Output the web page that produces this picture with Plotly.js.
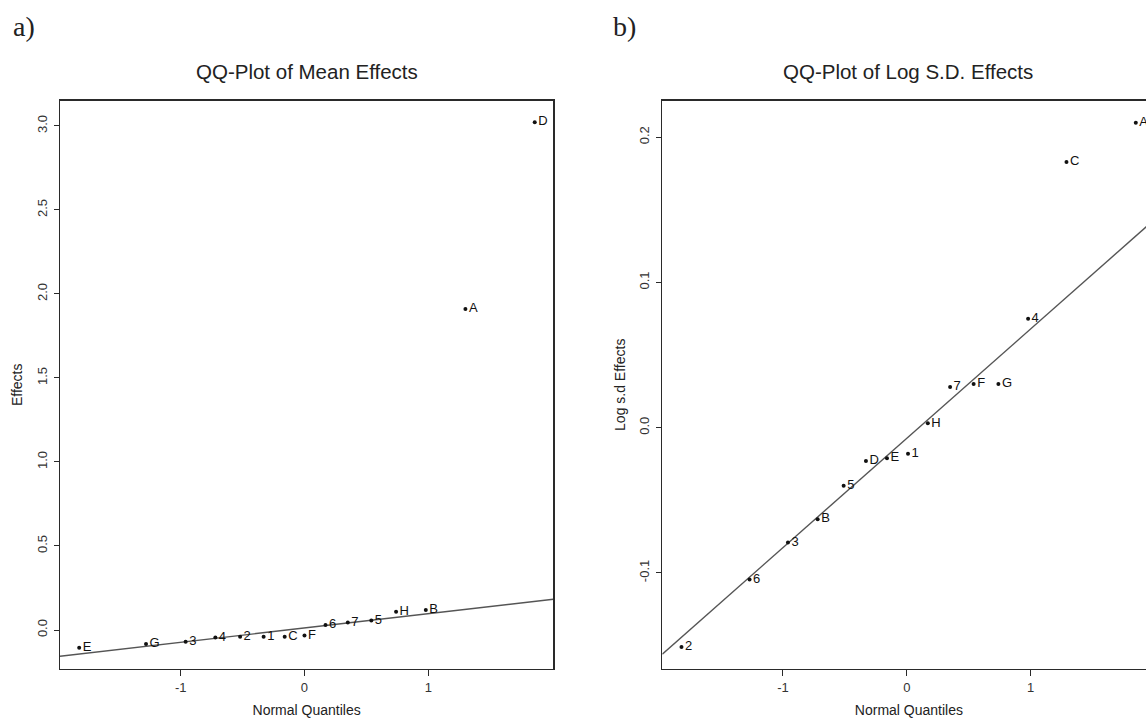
<!DOCTYPE html>
<html>
<head>
<meta charset="utf-8">
<script src="https://cdn.plot.ly/plotly-3.0.1.min.js"></script>
<style>
  html, body { margin: 0; padding: 0; background: #fff; overflow: hidden; }
  #chart { width: 1160px; height: 720px; }
</style>
</head>
<body>
<div id="chart"></div>
<script>
// ---- data ----
const meanLabels = ["E","G","3","4","2","1","C","F","6","7","5","H","B","A","D"];
const meanQuantiles = [-1.82, -1.28, -0.96, -0.72, -0.52, -0.33, -0.16, 0.00, 0.17, 0.35, 0.54, 0.74, 0.98, 1.30, 1.86];
const meanEffects = [-0.105, -0.083, -0.070, -0.044, -0.040, -0.040, -0.040, -0.032, 0.030, 0.044, 0.056, 0.109, 0.119, 1.911, 3.022];
const meanLineX = [-1.975, 2.01];
const meanLineY = [-0.156, 0.183];

const sdLabels = ["2","6","3","B","5","D","E","1","H","7","F","G","4","C","A"];
const sdQuantiles = [-1.82, -1.27, -0.96, -0.72, -0.51, -0.33, -0.16, 0.01, 0.17, 0.35, 0.54, 0.74, 0.98, 1.29, 1.85];
const sdEffects = [-0.151, -0.1045, -0.079, -0.063, -0.040, -0.023, -0.021, -0.018, 0.003, 0.028, 0.030, 0.030, 0.075, 0.183, 0.210];
const sdLineX = [-1.975, 2.01];
const sdLineY = [-0.156, 0.144];

const xTickVals = [-1, 0, 1];
const xTickText = ["-1", "0", "1"];
const meanTickVals = [0, 0.5, 1.0, 1.5, 2.0, 2.5, 3.0];
const meanTickText = ["0.0", "0.5", "1.0", "1.5", "2.0", "2.5", "3.0"];
const sdTickVals = [-0.1, 0.0, 0.1, 0.2];
const sdTickText = ["-0.1", "0.0", "0.1", "0.2"];

const titleLeft = "QQ-Plot of Mean Effects";
const titleRight = "QQ-Plot of Log S.D. Effects";

// ---- styling ----
const W = 1160, H = 720;
const sans = "Liberation Sans, Arial, Helvetica, sans-serif";
const serif = "Liberation Serif, DejaVu Serif, serif";
const frameColor = "#2a2a2a";
const lineColor = "#555";

function pointTrace(x, y, labels, xa, ya) {
  return {
    type: "scatter", mode: "markers+text", x: x, y: y, text: labels,
    textposition: "middle right",
    textfont: { family: sans, size: 13, color: "#111" },
    marker: { size: 4, color: "#111" },
    xaxis: xa, yaxis: ya, hoverinfo: "skip", cliponaxis: false
  };
}
function lineTrace(x, y, xa, ya) {
  return {
    type: "scatter", mode: "lines", x: x, y: y,
    line: { color: lineColor, width: 1.4 },
    xaxis: xa, yaxis: ya, hoverinfo: "skip"
  };
}

const data = [
  lineTrace(meanLineX, meanLineY, "x", "y"),
  pointTrace(meanQuantiles, meanEffects, meanLabels, "x", "y"),
  lineTrace(sdLineX, sdLineY, "x2", "y2"),
  pointTrace(sdQuantiles, sdEffects, sdLabels, "x2", "y2")
];

const yDom = [(H - 669) / H, (H - 100.5) / H];

function xAxis(domain, anchor) {
  return {
    domain: domain, anchor: anchor, range: [-1.975, 2.01],
    tickmode: "array", tickvals: xTickVals, ticktext: xTickText,
    ticks: "outside", ticklen: 6, tickwidth: 1, tickcolor: frameColor,
    showline: true, mirror: true, linecolor: frameColor, linewidth: 1.3,
    showgrid: false, zeroline: false, automargin: false,
    tickfont: { family: sans, size: 13, color: "#333" },
    title: { text: "Normal Quantiles", font: { family: sans, size: 14, color: "#222" }, standoff: 11 }
  };
}
function yAxis(range, tv, tt, anchor, title) {
  return {
    domain: yDom, anchor: anchor, range: range,
    tickmode: "array", tickvals: tv, ticktext: tt, tickangle: -90,
    ticks: "outside", ticklen: 5, tickwidth: 1, tickcolor: frameColor,
    ticklabelstandoff: 2,
    showline: true, mirror: true, linecolor: frameColor, linewidth: 1.3,
    showgrid: false, zeroline: false, automargin: false,
    tickfont: { family: sans, size: 13, color: "#333" },
    title: { text: title, font: { family: sans, size: 14, color: "#222" }, standoff: 8 }
  };
}

const layout = {
  width: W, height: H,
  margin: { l: 0, r: 0, t: 0, b: 0 },
  paper_bgcolor: "#fff", plot_bgcolor: "#fff",
  showlegend: false,
  xaxis: xAxis([60 / W, 553.3 / W], "y"),
  yaxis: yAxis([-0.232, 3.151], meanTickVals, meanTickText, "x", "Effects"),
  xaxis2: xAxis([662.3 / W, 1155.6 / W], "y2"),
  yaxis2: yAxis([-0.1662, 0.2253], sdTickVals, sdTickText, "x2", "Log s.d Effects"),
  annotations: [
    { text: titleLeft, xref: "paper", yref: "paper", x: 307 / W, y: (H - 72) / H,
      xanchor: "center", yanchor: "middle", showarrow: false,
      font: { family: sans, size: 20.5, color: "#222" } },
    { text: titleRight, xref: "paper", yref: "paper", x: 908 / W, y: (H - 72) / H,
      xanchor: "center", yanchor: "middle", showarrow: false,
      font: { family: sans, size: 20.5, color: "#222" } },
    { text: "a)", xref: "paper", yref: "paper", x: 11 / W, y: (H - 27) / H,
      xanchor: "left", yanchor: "middle", showarrow: false,
      font: { family: serif, size: 28, color: "#222" } },
    { text: "b)", xref: "paper", yref: "paper", x: 611 / W, y: (H - 27) / H,
      xanchor: "left", yanchor: "middle", showarrow: false,
      font: { family: serif, size: 28, color: "#222" } }
  ]
};

Plotly.newPlot("chart", data, layout, { displayModeBar: false, staticPlot: true, responsive: false });
</script>
</body>
</html>
